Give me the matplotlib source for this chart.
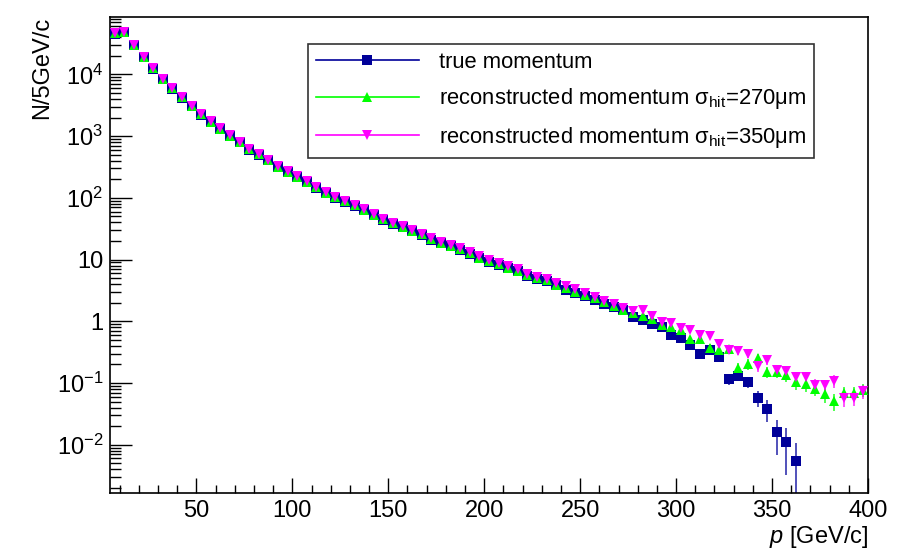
import numpy as np
import matplotlib.pyplot as plt
from matplotlib.lines import Line2D
from matplotlib.ticker import FixedLocator, NullFormatter, FuncFormatter

plt.rcParams['font.family'] = ['Liberation Sans', 'DejaVu Sans']
plt.rcParams['mathtext.fontset'] = 'custom'
plt.rcParams['mathtext.rm'] = 'Liberation Sans'
plt.rcParams['mathtext.it'] = 'Liberation Sans:italic'

# 5 GeV/c bins from 5 to 400, bin centres
p_centres = np.arange(7.5, 400, 5.0)

# true momentum (blue squares)
true_vals = [46000, 47800, 29700, 18800, 12450, 8350, 5900, 4220, 3040, 2240,
             1700, 1290, 1005, 795, 605, 502, 405, 316, 262, 217,
             180, 147, 121, 101, 86.5, 74.5, 62.5, 52.0, 44.4, 38.2,
             33.5, 28.9, 25.2, 21.1, 18.6, 16.3, 14.4, 12.4, 10.6, 9.25,
             8.15, 7.2, 6.5, 5.45, 4.9, 4.5, 3.85, 3.19, 2.83, 2.55,
             2.20, 1.94, 1.71, 1.51, 1.18, 1.04, 0.92, 0.81, 0.60, 0.53,
             0.41, 0.30, 0.34, 0.262, 0.118, 0.130, 0.102, 0.058, 0.0376, 0.0158,
             0.0109, 0.00535]
true_err = [0.09, 0.08, 0.07, 0.06, 0.06, 0.05, 0.045, 0.05, 0.04, 0.024,
            0.02, 0.02, 0.017, 0.0146, 0.009, 0.0077, 0.00532]
true_err_start = 55

# reconstructed, sigma_hit = 270 um (green triangles)
reco270_vals = [46150, 47970, 29850, 18880, 12510, 8400, 5930, 4240, 3060, 2250,
                1710, 1300, 1010, 800, 608, 505, 408, 318, 264, 219,
                182, 148, 122, 102, 87.5, 75.3, 63.2, 52.5, 44.9, 38.6,
                33.9, 29.2, 25.5, 21.4, 18.9, 16.5, 14.6, 12.6, 10.8, 9.42,
                8.34, 7.35, 6.65, 5.58, 5.06, 4.63, 3.94, 3.40, 2.93, 2.68,
                2.34, 2.07, 1.78, 1.55, 1.37, 1.22, 1.07, 0.865, 0.811, 0.718,
                0.526, 0.507, 0.376, 0.340, 0.357, 0.178, 0.204, 0.250, 0.151, 0.150,
                0.134, 0.102, 0.0966, 0.0814, 0.0676, 0.0507, 0.0684, 0.0684, 0.0778]
reco270_err = [0.10, 0.09, 0.08, 0.08, 0.07, 0.06, 0.06, 0.05, 0.05, 0.05,
               0.035, 0.04, 0.04, 0.03, 0.03, 0.03, 0.025, 0.025, 0.02, 0.02,
               0.015, 0.017, 0.017, 0.018]
reco270_err_start = 55

# reconstructed, sigma_hit = 350 um (magenta triangles)
reco350_vals = [46800, 48700, 30300, 19200, 12750, 8550, 6030, 4320, 3120, 2290,
                1745, 1330, 1030, 818, 622, 517, 418, 327, 271, 226,
                187, 152, 126, 105, 90.0, 77.5, 65.0, 54.2, 46.2, 39.8,
                35.0, 30.2, 26.4, 22.2, 19.6, 17.2, 15.2, 13.1, 11.3, 9.85,
                8.75, 7.75, 7.0, 5.9, 5.3, 4.9, 4.1, 3.80, 3.28, 2.83,
                2.46, 2.16, 1.89, 1.63, 1.46, 1.55, 1.21, 0.966, 0.942, 0.773,
                0.718, 0.596, 0.567, 0.426, 0.340, 0.325, 0.300, 0.189, 0.234, 0.161,
                0.158, 0.123, 0.123, 0.0937, 0.0914, 0.108, 0.0561, 0.0578, 0.0736]
reco350_err = [0.11, 0.10, 0.09, 0.09, 0.08, 0.07, 0.07, 0.06, 0.06, 0.05,
               0.04, 0.045, 0.04, 0.035, 0.035, 0.03, 0.03, 0.03, 0.022, 0.022,
               0.025, 0.016, 0.016, 0.018]
reco350_err_start = 55

labels = ['true momentum',
          r'reconstructed momentum σ$_{\mathrm{hit}}$=270μm',
          r'reconstructed momentum σ$_{\mathrm{hit}}$=350μm']
colors = ['#000099', '#00ff00', '#ff00ff']
markers = ['s', '^', 'v']

y_ticks = [1e-2, 1e-1, 1, 10, 1e2, 1e3, 1e4]
y_tick_labels = [r'$10^{-2}$', r'$10^{-1}$', '1', '10', r'$10^{2}$', r'$10^{3}$', r'$10^{4}$']


def full_err(vals, err, start):
    e = np.zeros(len(vals))
    e[start:start + len(err)] = err
    return e


fig = plt.figure(figsize=(9.13, 5.5), dpi=100)
ax = fig.add_axes([0.1205, 0.1036, 0.8302, 0.8654])

series = [
    (true_vals, full_err(true_vals, true_err, true_err_start), 0),
    (reco350_vals, full_err(reco350_vals, reco350_err, reco350_err_start), 2),
    (reco270_vals, full_err(reco270_vals, reco270_err, reco270_err_start), 1),
]
for vals, err, i in series:
    x = p_centres[:len(vals)]
    vals = np.array(vals)
    lo = np.minimum(err, vals * 0.9999)
    ax.errorbar(x, vals, yerr=[lo, err], fmt='none', ecolor=colors[i],
                elinewidth=1.2, alpha=0.8, zorder=2 + i)
    ax.plot(x, vals, linestyle='none', marker=markers[i], color=colors[i],
            markersize=7 if i == 0 else 7.5, markeredgewidth=0, zorder=3 + i)

ax.set_yscale('log')
ax.set_xlim(5, 400)
ax.set_ylim(1.65e-3, 8.5e4)

ax.xaxis.set_major_locator(FixedLocator(np.arange(50, 401, 50)))
ax.xaxis.set_minor_locator(FixedLocator(np.arange(10, 401, 10)))
ax.yaxis.set_major_locator(FixedLocator(y_ticks))
ax.yaxis.set_major_formatter(FuncFormatter(lambda v, pos: y_tick_labels[y_ticks.index(v)] if v in y_ticks else ''))
minor_y = [m * 10.0 ** d for d in range(-3, 5) for m in range(2, 10)]
ax.yaxis.set_minor_locator(FixedLocator(minor_y))
ax.yaxis.set_minor_formatter(NullFormatter())

ax.tick_params(axis='both', which='both', direction='in', top=False, right=False,
               labelsize=17, width=1, colors='black')
ax.tick_params(axis='x', which='major', length=11, pad=5)
ax.tick_params(axis='x', which='minor', length=5.5)
ax.tick_params(axis='y', which='major', length=16, pad=5)
ax.tick_params(axis='y', which='minor', length=8)
for s in ax.spines.values():
    s.set_linewidth(1.2)

ax.set_xlabel(r'$p$ [GeV/c]', fontsize=17, ha='right', x=1.0)
ax.xaxis.set_label_coords(1.0, -0.066)
ax.set_ylabel('N/5GeV/c', fontsize=17, ha='right', y=1.0)
ax.yaxis.set_label_coords(-0.075, 1.0)

handles = [Line2D([0], [0], color=colors[i], marker=markers[i], markersize=7,
                  markeredgewidth=0, linewidth=1.2) for i in range(3)]
leg = ax.legend(handles, labels, loc='upper left', bbox_to_anchor=(0.2612, 0.9431),
                borderaxespad=0, fontsize=15.8, frameon=True, fancybox=False,
                edgecolor='black', handlelength=4.7, handletextpad=0.9,
                borderpad=0.35, labelspacing=0.62)
leg.get_frame().set_linewidth(1.2)

fig.savefig('out.png', dpi=100)
